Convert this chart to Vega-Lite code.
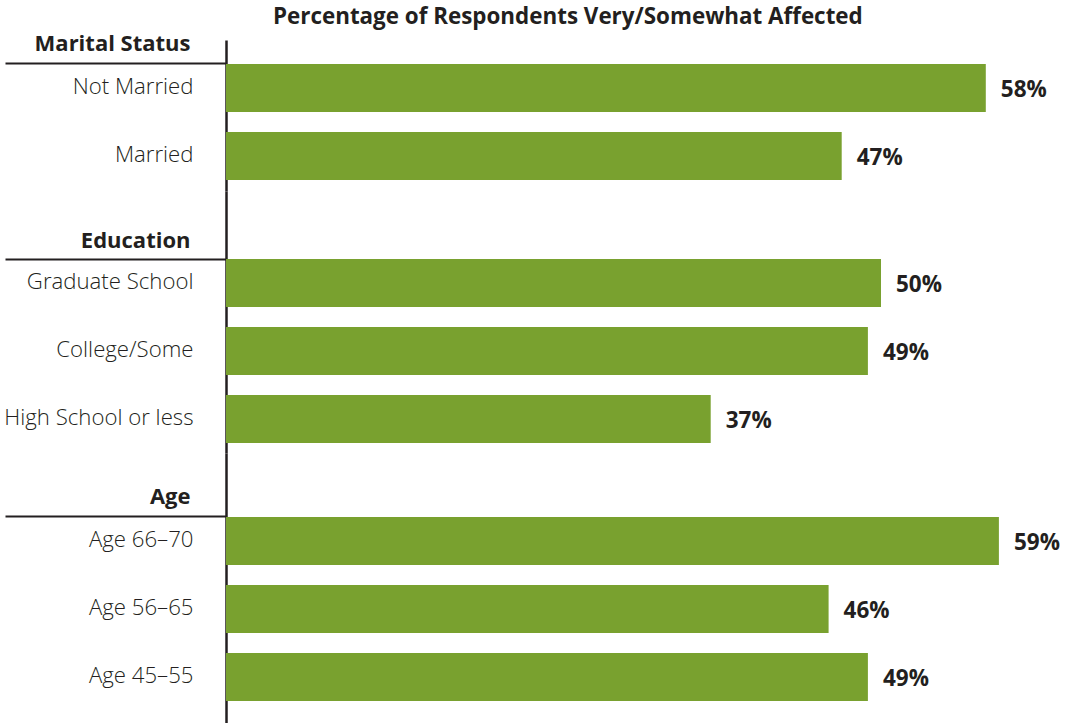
{
  "$schema": "https://vega.github.io/schema/vega-lite/v6.json",
  "padding": {"left": 3, "top": 5, "right": 0, "bottom": 0},
  "background": "white",
  "title": {"text": "Percentage of Respondents Very/Somewhat Affected", "font": "Open Sans", "fontSize": 22.4, "fontWeight": "bold", "color": "#231f20", "anchor": "middle", "dx": 36, "offset": 4},
  "data": {"values": [
    {"group": "Marital Status", "item": "Not Married", "pct": 0.58},
    {"group": "Marital Status", "item": "Married", "pct": 0.47},
    {"group": "Education", "item": "Graduate School", "pct": 0.50},
    {"group": "Education", "item": "College/Some", "pct": 0.49},
    {"group": "Education", "item": "High School or less", "pct": 0.37},
    {"group": "Age", "item": "Age 66–70", "pct": 0.59},
    {"group": "Age", "item": "Age 56–65", "pct": 0.46},
    {"group": "Age", "item": "Age 45–55", "pct": 0.49}
  ]},
  "spacing": 0,
  "vconcat": [
    {
      "width": 786, "height": 151,
      "transform": [{"filter": "datum.group === 'Marital Status'"}],
      "encoding": {
        "y": {"field": "item", "type": "nominal", "sort": null,
          "scale": {"paddingInner": 0.2941, "paddingOuter": 0.257, "align": 0.686, "round": false},
          "axis": {"title": "Marital Status", "titleY": 10,
            "tickColor": {"condition": {"test": "datum.value === 'Not Married'", "value": "#231f20"}, "value": "transparent"}}},
        "x": {"field": "pct", "type": "quantitative", "scale": {"domain": [0, 0.6], "nice": false}, "axis": null}
      },
      "layer": [
        {"mark": {"type": "bar", "color": "#79a12f"}},
        {"mark": {"type": "text", "align": "left", "baseline": "middle", "dx": 15, "dy": 2, "font": "Open Sans", "fontSize": 22.5, "fontWeight": "bold", "color": "#231f20"},
         "encoding": {"text": {"field": "pct", "type": "quantitative", "format": ".0%"}}}
      ]
    },
    {
      "width": 786, "height": 262,
      "transform": [{"filter": "datum.group === 'Education'"}],
      "encoding": {
        "y": {"field": "item", "type": "nominal", "sort": null,
          "scale": {"paddingInner": 0.2941, "paddingOuter": 0.5735, "align": 0.872, "round": false},
          "axis": {"title": "Education", "titleY": 56,
            "tickColor": {"condition": {"test": "datum.value === 'Graduate School'", "value": "#231f20"}, "value": "transparent"}}},
        "x": {"field": "pct", "type": "quantitative", "scale": {"domain": [0, 0.6], "nice": false}, "axis": null}
      },
      "layer": [
        {"mark": {"type": "bar", "color": "#79a12f"}},
        {"mark": {"type": "text", "align": "left", "baseline": "middle", "dx": 15, "dy": 2, "font": "Open Sans", "fontSize": 22.5, "fontWeight": "bold", "color": "#231f20"},
         "encoding": {"text": {"field": "pct", "type": "quantitative", "format": ".0%"}}}
      ]
    },
    {
      "width": 786, "height": 270,
      "transform": [{"filter": "datum.group === 'Age'"}],
      "encoding": {
        "y": {"field": "item", "type": "nominal", "sort": null,
          "scale": {"paddingInner": 0.2941, "paddingOuter": 0.632, "align": 0.744, "round": false},
          "axis": {"title": "Age", "titleY": 50,
            "tickColor": {"condition": {"test": "datum.value === 'Age 66–70'", "value": "#231f20"}, "value": "transparent"}}},
        "x": {"field": "pct", "type": "quantitative", "scale": {"domain": [0, 0.6], "nice": false}, "axis": null}
      },
      "layer": [
        {"mark": {"type": "bar", "color": "#79a12f"}},
        {"mark": {"type": "text", "align": "left", "baseline": "middle", "dx": 15, "dy": 2, "font": "Open Sans", "fontSize": 22.5, "fontWeight": "bold", "color": "#231f20"},
         "encoding": {"text": {"field": "pct", "type": "quantitative", "format": ".0%"}}}
      ]
    }
  ],
  "config": {
    "view": {"stroke": null},
    "axisY": {
      "domainColor": "#231f20", "domainWidth": 2.5,
      "bandPosition": 0,
      "tickSize": 221, "tickWidth": 2,
      "labelPadding": -188, "labelOffset": -1,
      "labelFont": "Open Sans", "labelFontSize": 22.2, "labelFontWeight": 300, "labelColor": "#231f20", "labelLimit": 400,
      "titleAngle": 0, "titleAlign": "right", "titleBaseline": "alphabetic", "titleX": -36,
      "titleFont": "Open Sans", "titleFontSize": 22, "titleFontWeight": "bold", "titleColor": "#231f20",
      "zindex": 1
    }
  }
}
